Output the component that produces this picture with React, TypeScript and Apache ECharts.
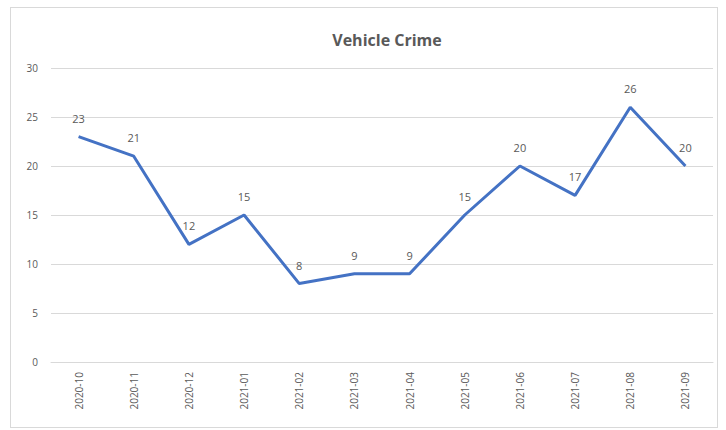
import React, { useEffect, useRef } from "react";
import * as echarts from "echarts";

const categories = [
  "2020-10", "2020-11", "2020-12", "2021-01", "2021-02", "2021-03",
  "2021-04", "2021-05", "2021-06", "2021-07", "2021-08", "2021-09",
];
const values = [23, 21, 12, 15, 8, 9, 9, 15, 20, 17, 26, 20];
const titleText = "Vehicle Crime";

export default function App() {
  const ref = useRef<HTMLDivElement>(null);
  useEffect(() => {
    if (!ref.current) return;
    const chart = echarts.init(ref.current, undefined, { renderer: "svg" });
    chart.setOption({
      animation: false,
      backgroundColor: "#ffffff",
      textStyle: { fontFamily: "Open Sans" },
      title: {
        text: titleText,
        left: 382,
        textAlign: "center",
        top: 27,
        textStyle: { fontSize: 16, fontWeight: "bold", color: "#595959", fontFamily: "Open Sans" },
      },
      grid: { left: 51, right: 13, top: 68, bottom: 68, containLabel: false },
      xAxis: {
        type: "category",
        data: categories,
        boundaryGap: true,
        axisLine: { show: true, lineStyle: { color: "#d9d9d9", width: 1 } },
        axisTick: { show: false },
        axisLabel: { rotate: 90, color: "#595959", fontSize: 10, margin: 10, interval: 0 },
      },
      yAxis: {
        type: "value",
        min: 0,
        max: 30,
        interval: 5,
        axisLine: { show: false },
        axisTick: { show: false },
        axisLabel: { color: "#595959", fontSize: 10, margin: 13 },
        splitLine: { lineStyle: { color: "#d9d9d9", width: 1 } },
      },
      series: [
        {
          type: "line",
          data: values,
          showSymbol: true,
          symbol: "circle",
          symbolSize: 0,
          lineStyle: { color: "#4472C4", width: 3 },
          itemStyle: { color: "#4472C4" },
          label: {
            show: true,
            position: "top",
            distance: 13,
            color: "#595959",
            fontSize: 11,
          },
        },
      ],
    });
    return () => chart.dispose();
  }, []);
  return (
    <div
      style={{
        position: "fixed",
        left: 0,
        top: 0,
        width: 726,
        height: 430,
        background: "#fff",
      }}
    >
      <div
        style={{
          position: "absolute",
          left: 10,
          top: 7,
          width: 708,
          height: 421,
          border: "1px solid #d9d9d9",
          boxSizing: "border-box",
          pointerEvents: "none",
          zIndex: 1,
        }}
      />
      <div ref={ref} style={{ position: "absolute", left: 0, top: 0, width: 726, height: 430 }} />
    </div>
  );
}
